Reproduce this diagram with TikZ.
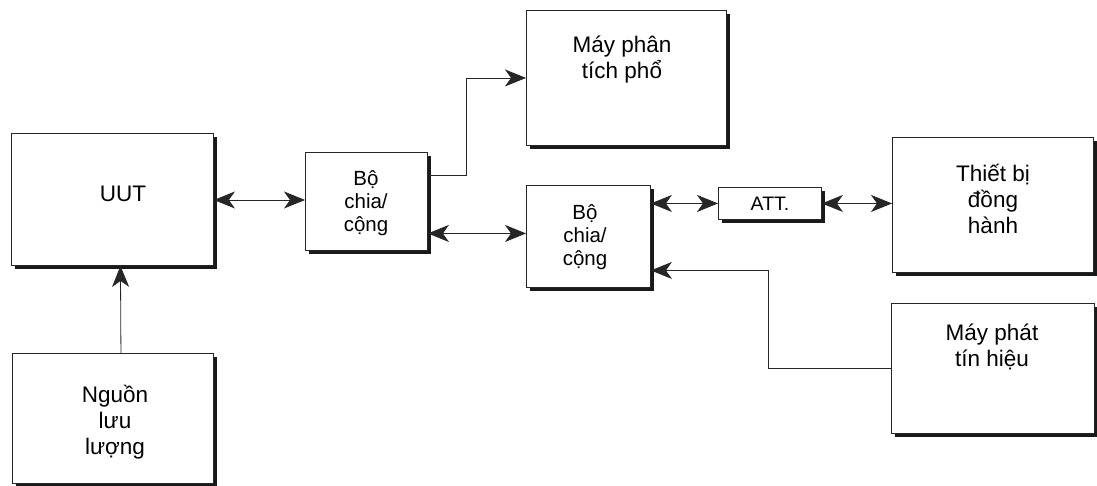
\documentclass[tikz,border=0pt]{standalone}
\usepackage{fontspec}
\setmainfont{Liberation Sans}
\usetikzlibrary{arrows.meta,shadows}
\begin{document}
\begin{tikzpicture}[x=1pt,y=-1pt,
  blk/.style={draw=black!85, line width=0.9pt, fill=white, anchor=north west, inner sep=0pt,
    drop shadow={fill=black!90, opacity=1, shadow xshift=3.5pt, shadow yshift=-3.5pt}},
  txt/.style={align=center, inner sep=0pt, font=\fontsize{22.5}{26}\selectfont},
  stxt/.style={align=center, inner sep=0pt, font=\fontsize{20.5}{23}\selectfont},
  conn/.style={line width=0.8pt, draw=black!85},
  arr/.style={conn, -{Stealth[length=21pt,width=17pt,inset=6pt]}},
  dbl/.style={conn, {Stealth[length=21pt,width=17pt,inset=6pt]}-{Stealth[length=21pt,width=17pt,inset=6pt]}}
]
\useasboundingbox (0,0) rectangle (1097,486);
% boxes
\node[blk, minimum width=202pt, minimum height=132pt] (uut) at (11,133) {};
\node[blk, minimum width=122pt, minimum height=98pt] (sp1) at (305,152) {};
\node[blk, minimum width=200pt, minimum height=135pt] (sa) at (526,10) {};
\node[blk, minimum width=124pt, minimum height=102pt] (sp2) at (526,185) {};
\node[blk, minimum width=103pt, minimum height=32pt] (att) at (718,187) {};
\node[blk, minimum width=201pt, minimum height=135pt] (comp) at (892,137) {};
\node[blk, minimum width=203pt, minimum height=130pt] (gen) at (891,303) {};
\node[blk, minimum width=201pt, minimum height=130pt] (src) at (12,353) {};
% texts
\node[txt] (tuut) at (123,194) {UUT};
\node[stxt] (tsp1) at (366,203) {Bộ\\chia/\\cộng};
\node[txt] (tsa) at (622,60) {Máy phân\\tích phổ};
\node[stxt] (tsp2) at (585,237) {Bộ\\chia/\\cộng};
\node[stxt, font=\fontsize{19.5}{22}\selectfont] (tatt) at (770,204) {ATT.};
\node[txt] (tcomp) at (993,199) {Thiết bị\\đồng\\hành};
\node[txt] (tgen) at (992,347) {Máy phát\\tín hiệu};
\node[txt] (tsrc) at (115,422) {Nguồn\\lưu\\lượng};
% connectors
\draw[dbl] (uut.east |- 0,200) -- (sp1.west |- 0,200);
\draw[arr] ([yshift=26pt]sp1.east) -- ++(38,0) |- (sa.west);
\draw[dbl] ([yshift=-32pt]sp1.east) -- ([yshift=-32pt]sp1.east -| sp2.west);
\draw[dbl] (sp2.east |- att.west) -- (att.west);
\draw[dbl] (att.east) -- (att.east -| comp.west);
\draw[arr] (gen.west) -- ++(-123,0) |- ([yshift=-34pt]sp2.east);
\draw[arr] ([xshift=8pt]src.north) -- ([xshift=8pt]uut.south);
\end{tikzpicture}
\end{document}
